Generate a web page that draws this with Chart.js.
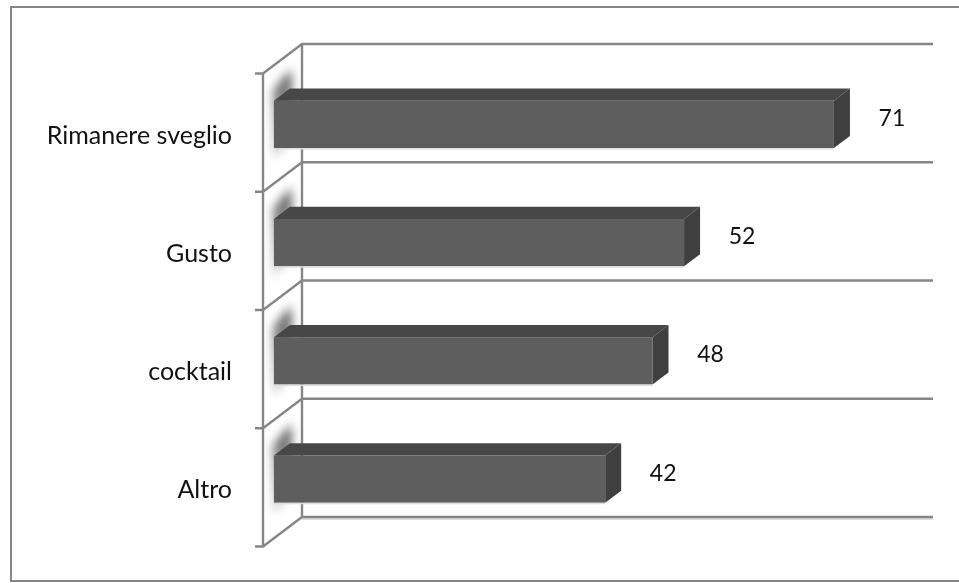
<!DOCTYPE html>
<html>
<head>
<meta charset="utf-8">
<script src="https://cdn.jsdelivr.net/npm/chart.js@4.4.1/dist/chart.umd.min.js"></script>
<style>
  html, body { margin: 0; padding: 0; background: #fff; }
  #wrap { width: 959px; height: 583px; position: relative; }
</style>
</head>
<body>
<div id="wrap"><canvas id="chart" width="959" height="583"></canvas></div>
<script>
// categories top to bottom, and their counts
const categories = ['Rimanere sveglio', 'Gusto', 'cocktail', 'Altro'];
const values = [71, 52, 48, 42];
const valueMax = 80;

// depth of the 3d box: the front plane sits down-left of the back wall
const DEPTH_X = 39;
const DEPTH_Y = 29.5;
const BAR_FRONT = 0.72;  // bar front face, as fraction of depth from back wall
const BAR_BACK = 0.31;

const GRID = '#868686';
const LABEL_FONT = '25px Lato, "Open Sans", sans-serif';
const VALUE_FONT = '23px Lato, "Open Sans", sans-serif';

function shade(ctx, pts, color) {
  ctx.beginPath();
  ctx.moveTo(pts[0][0], pts[0][1]);
  for (let i = 1; i < pts.length; i++) ctx.lineTo(pts[i][0], pts[i][1]);
  ctx.closePath();
  ctx.fillStyle = color;
  ctx.fill();
}

const box3d = {
  id: 'box3d',
  beforeDatasetsDraw(chart) {
    const ctx = chart.ctx;
    const area = chart.chartArea;
    const n = categories.length;
    const band = (area.bottom - area.top) / n;

    ctx.save();
    // outer frame
    ctx.strokeStyle = GRID;
    ctx.lineWidth = 2;
    ctx.strokeRect(11, 7, 970, 574);

    // floor edge shade under the last gridline
    ctx.strokeStyle = '#dcdcdc';
    ctx.beginPath();
    ctx.moveTo(area.left, area.bottom + 2);
    ctx.lineTo(area.right, area.bottom + 2);
    ctx.stroke();

    // soft shadow each bar casts onto the side wall
    const meta = chart.getDatasetMeta(0);
    meta.data.forEach((bar) => {
      const h = bar.height;
      const xa = area.left - DEPTH_X * BAR_FRONT - 1;
      const xb = area.left - DEPTH_X * BAR_BACK + 2;
      const ya = bar.y - h / 2 + DEPTH_Y * BAR_FRONT;
      const yb = bar.y - h / 2 + DEPTH_Y * BAR_BACK;
      ctx.save();
      ctx.filter = 'blur(5px)';
      const g = ctx.createLinearGradient(0, yb - 24, 0, ya + h + 12);
      g.addColorStop(0, 'rgba(0,0,0,0.1)');
      g.addColorStop(0.15, 'rgba(0,0,0,0.6)');
      g.addColorStop(0.55, 'rgba(0,0,0,0.35)');
      g.addColorStop(1, 'rgba(0,0,0,0.12)');
      shade(ctx, [[xa, ya - 10], [xb, yb - 22], [xb, yb + h + 2], [xa, ya + h + 12]], g);
      ctx.restore();
    });

    // back wall gridlines between categories + side wall diagonals + ticks
    ctx.strokeStyle = GRID;
    ctx.lineWidth = 2.4;
    for (let k = 0; k <= n; k++) {
      const y = area.top + k * band;
      ctx.beginPath();
      ctx.moveTo(area.right, y);
      ctx.lineTo(area.left, y);
      ctx.lineTo(area.left - DEPTH_X, y + DEPTH_Y);
      ctx.lineTo(area.left - DEPTH_X - 8, y + DEPTH_Y);
      ctx.stroke();
    }
    ctx.beginPath();
    ctx.moveTo(area.left, area.top);
    ctx.lineTo(area.left, area.bottom);
    ctx.moveTo(area.left - DEPTH_X, area.top + DEPTH_Y);
    ctx.lineTo(area.left - DEPTH_X, area.bottom + DEPTH_Y);
    ctx.stroke();
    ctx.restore();
  },
  afterDatasetsDraw(chart) {
    const ctx = chart.ctx;
    const yScale = chart.scales.y;
    const meta = chart.getDatasetMeta(0);

    ctx.save();
    meta.data.forEach((bar, i) => {
      const h = bar.height;
      const fx = -DEPTH_X * BAR_FRONT, fy = DEPTH_Y * BAR_FRONT;
      const bx = -DEPTH_X * BAR_BACK, by = DEPTH_Y * BAR_BACK;
      const x0 = bar.base, x1 = bar.x;
      const yt = bar.y - h / 2, yb = bar.y + h / 2;

      // top face
      shade(ctx, [[x0 + fx, yt + fy], [x0 + bx, yt + by], [x1 + bx, yt + by], [x1 + fx, yt + fy]], '#474747');
      // end face
      shade(ctx, [[x1 + fx, yt + fy], [x1 + bx, yt + by], [x1 + bx, yb + by], [x1 + fx, yb + fy]], '#3f3f3f');
      // front face
      ctx.fillStyle = '#5e5e5e';
      ctx.fillRect(x0 + fx, yt + fy, x1 - x0, h);
      ctx.fillStyle = '#dedede';
      ctx.fillRect(x0 + fx, yb + fy, x1 - x0, 1.5);

      // value label
      ctx.fillStyle = '#111';
      ctx.font = VALUE_FONT;
      ctx.textAlign = 'center';
      ctx.textBaseline = 'middle';
      ctx.fillText(String(values[i]), x1 + fx + 58, bar.y + fy - 6);
    });

    // category labels, level with the front plane
    ctx.fillStyle = '#111';
    ctx.font = LABEL_FONT;
    ctx.textAlign = 'right';
    ctx.textBaseline = 'middle';
    categories.forEach((c, i) => {
      ctx.fillText(c, 232, yScale.getPixelForValue(i) + DEPTH_Y + 3);
    });
    ctx.restore();
  }
};

new Chart(document.getElementById('chart'), {
  type: 'bar',
  data: {
    labels: categories,
    datasets: [{
      data: values,
      backgroundColor: 'rgba(0,0,0,0)',
      borderWidth: 0,
      categoryPercentage: 1,
      barPercentage: 0.4
    }]
  },
  options: {
    indexAxis: 'y',
    responsive: false,
    animation: false,
    layout: { padding: { left: 302, top: 44, right: 26, bottom: 66 } },
    plugins: { legend: { display: false }, tooltip: { enabled: false } },
    scales: {
      x: { display: false, min: 0, max: valueMax },
      y: { display: false }
    }
  },
  plugins: [box3d]
});
</script>
</body>
</html>
